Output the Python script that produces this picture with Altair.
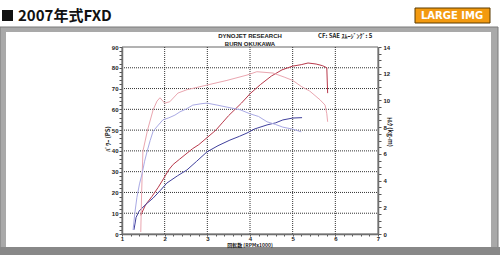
import altair as alt
import pandas as pd

# ---- data read from the dyno sheet ----
# modified run: power (PS) and torque (kg-m)
mod_p_rpm = [1.44, 1.55, 1.7, 1.85, 1.97, 2.1, 2.2, 2.35, 2.5, 2.65, 2.8, 3.0, 3.2, 3.35, 3.5, 3.65, 3.8, 4.0, 4.25, 4.5, 4.75, 5.0, 5.2, 5.36, 5.55, 5.7, 5.8, 5.82]
mod_p_ps = [9, 14, 18, 22.5, 26.5, 31, 33.5, 36, 38.5, 41, 43, 46.5, 50, 53.5, 57, 60, 63, 67.5, 72, 76, 79, 80.8, 81.5, 82.3, 81.8, 81, 80, 67.8]

mod_t_rpm = [1.44, 1.46, 1.49, 1.6, 1.73, 1.82, 1.89, 2.0, 2.12, 2.31, 2.52, 2.99, 3.46, 3.93, 4.16, 4.54, 4.8, 5.0, 5.2, 5.4, 5.64, 5.76, 5.8, 5.82]
mod_t_kgm = [0.15, 3.1, 6.2, 7.8, 9.3, 9.95, 10.2, 9.8, 9.9, 10.55, 10.8, 11.15, 11.5, 11.9, 12.15, 12.05, 11.75, 11.5, 11.05, 10.7, 10.05, 9.65, 9.0, 8.4]

# stock run: power (PS) and torque (kg-m)
std_p_rpm = [1.28, 1.33, 1.4, 1.47, 1.6, 1.73, 1.9, 2.05, 2.3, 2.52, 2.75, 2.99, 3.25, 3.53, 3.75, 3.93, 4.1, 4.4, 4.6, 4.77, 5.0, 5.22]
std_p_ps = [2, 8, 11, 12.5, 15, 17.3, 21, 24.5, 28, 30.8, 35, 39.5, 42.5, 45.2, 47, 48.6, 50.5, 52.5, 53.5, 54.9, 55.8, 56]

std_t_rpm = [1.26, 1.3, 1.35, 1.41, 1.47, 1.53, 1.59, 1.66, 1.73, 1.85, 1.96, 2.1, 2.24, 2.36, 2.5, 2.66, 2.85, 2.99, 3.23, 3.46, 3.77, 4.0, 4.2, 4.4, 4.6, 4.77, 5.0, 5.2]
std_t_kgm = [0.3, 1.55, 2.75, 3.75, 4.5, 5.45, 6.2, 7.0, 7.7, 8.15, 8.55, 8.7, 8.9, 9.15, 9.35, 9.65, 9.75, 9.8, 9.65, 9.5, 9.3, 9.0, 8.8, 8.4, 8.2, 8.0, 7.85, 7.65]

x_ticks = [round(1 + 0.2 * i, 1) for i in range(31)]
left_ticks = list(range(0, 91, 2))
right_ticks = [i * 0.5 for i in range(29)]
grid_x = [2, 3, 4, 5, 6]
grid_y = [10, 20, 30, 40, 50, 60, 70, 80]

power = pd.concat([
    pd.DataFrame({"rpm": mod_p_rpm, "ps": mod_p_ps, "run": "mod"}),
    pd.DataFrame({"rpm": std_p_rpm, "ps": std_p_ps, "run": "std"}),
])
torque = pd.concat([
    pd.DataFrame({"rpm": mod_t_rpm, "kgm": mod_t_kgm, "run": "mod"}),
    pd.DataFrame({"rpm": std_t_rpm, "kgm": std_t_kgm, "run": "std"}),
])

W, H = 256, 187
L, T = 122, 47
one = pd.DataFrame({"a": [1]})
FONT = "Liberation Sans"
CJK = "Noto Sans CJK JP"

xs = alt.Scale(domain=[1, 7], nice=False, zero=False)
ys_l = alt.Scale(domain=[0, 90], nice=False)
ys_r = alt.Scale(domain=[0, 14], nice=False)


def rect(x0, y0, x1, y1, fill, stroke=None, sw=1):
    kw = {"fill": fill} if fill else {"fillOpacity": 0}
    if stroke:
        kw.update(stroke=stroke, strokeWidth=sw)
    return alt.Chart(one).mark_rect(**kw).encode(
        x=alt.value(x0 - L), x2=alt.value(x1 - L), y=alt.value(y0 - T), y2=alt.value(y1 - T))


def txt(s, x, y, size=6, font=FONT, weight="bold", color="#222", align="center", angle=0):
    return alt.Chart(one).mark_text(text=s, fontSize=size, font=font, fontWeight=weight,
                                    color=color, align=align, baseline="middle", angle=angle).encode(
        x=alt.value(x - L), y=alt.value(y - T))


decor = [
    rect(0, 27, 498, 255, "#a9a9a9", "#7a7a7a"),
    rect(6, 32, 491, 247, "#ffffff"),
    rect(0, 247, 500, 255, "#888888"),
    rect(2, 10, 13, 21, "#111111"),
    txt("2007年式FXD", 18, 15.5, size=15, font=CJK, color="#111", align="left"),
    rect(415, 8, 490, 23, "#f39a10", "#5a3a00"),
    txt("LARGE IMG", 452, 15.5, size=10, font="DejaVu Sans", color="#ffffff"),
    txt("DYNOJET  RESEARCH", 250, 36),
    txt("BURN OKUKAWA", 250, 43.5),
    txt("CF: SAE   ｽﾑｰｼﾞﾝｸﾞ: 5", 318, 36, font=CJK, align="left"),
    txt("ﾊﾟﾜｰ (PS)", 108, 139, font=CJK, angle=270),
    txt("ﾄﾙｸ (kg-m)", 390, 132, font=CJK, angle=90),
    txt("回転数 (RPMx1000)", 250, 245.3, size=5, font=CJK),
    rect(L, T, L + W, T + H, None, "#666666", 1),
]

ax_common = dict(grid=False, labelFont=FONT, labelFontSize=6, labelFontWeight="bold",
                 labelColor="#222", tickColor="#555", domainColor="#707070", domainWidth=1.5,
                 labelFlush=False, labelOverlap=False, title=None, zindex=1)
x_axis = alt.Axis(values=x_ticks, labelPadding=-0.5, tickSize=2, labelBaseline="top",
                  labelExpr="abs(datum.value - round(datum.value)) < 0.01 ? '' + round(datum.value) : ''",
                  **ax_common)
yl_axis = alt.Axis(values=left_ticks, orient="left", labelPadding=1, tickSize=3,
                   labelExpr="datum.value % 10 == 0 ? '' + datum.value : ''", **ax_common)
yr_axis = alt.Axis(values=right_ticks, orient="right", labelPadding=2, tickSize=3,
                   labelExpr="datum.value % 2 == 0 ? '' + datum.value : ''", **ax_common)

gh = pd.DataFrame({"g": grid_y, "x1": 1, "x2": 7})
gv = pd.DataFrame({"g": grid_x, "y1": 0, "y2": 90})
grid_h = alt.Chart(gh).mark_rule(color="#333", strokeDash=[1, 1], strokeWidth=1).encode(
    y=alt.Y("g:Q", scale=ys_l, axis=yl_axis),
    x=alt.X("x1:Q", scale=xs, axis=x_axis), x2="x2:Q")
grid_v = alt.Chart(gv).mark_rule(color="#333", strokeDash=[1, 1], strokeWidth=1).encode(
    x=alt.X("g:Q", scale=xs, axis=x_axis),
    y=alt.Y("y1:Q", scale=ys_l, axis=yl_axis), y2="y2:Q")

pw = alt.Chart(power).mark_line(strokeWidth=1, clip=False).encode(
    x=alt.X("rpm:Q", scale=xs, axis=x_axis),
    y=alt.Y("ps:Q", scale=ys_l, axis=yl_axis),
    color=alt.Color("run:N", scale=alt.Scale(domain=["mod", "std"], range=["#b8384a", "#40409c"]), legend=None),
    detail="run:N",
)

tq = alt.Chart(torque).mark_line(strokeWidth=1, clip=False).encode(
    x=alt.X("rpm:Q", scale=xs, axis=x_axis),
    y=alt.Y("kgm:Q", scale=ys_r, axis=yr_axis),
    color=alt.Color("run:N", scale=alt.Scale(domain=["mod", "std"], range=["#eaa6b0", "#a9a9e4"]), legend=None),
    detail="run:N",
)

left_part = alt.layer(grid_h, grid_v, pw)
plots = alt.layer(left_part, tq).resolve_scale(y="independent", color="independent")

chart = alt.layer(*decor, plots).properties(
    width=W, height=H,
    padding={"left": L, "top": T, "right": 500 - L - W, "bottom": 255 - T - H},
    autosize=alt.AutoSizeParams(type="none"),
    background="white",
).configure_view(stroke=None)

chart.save("out.html", embed_options={"renderer": "svg", "actions": False})
